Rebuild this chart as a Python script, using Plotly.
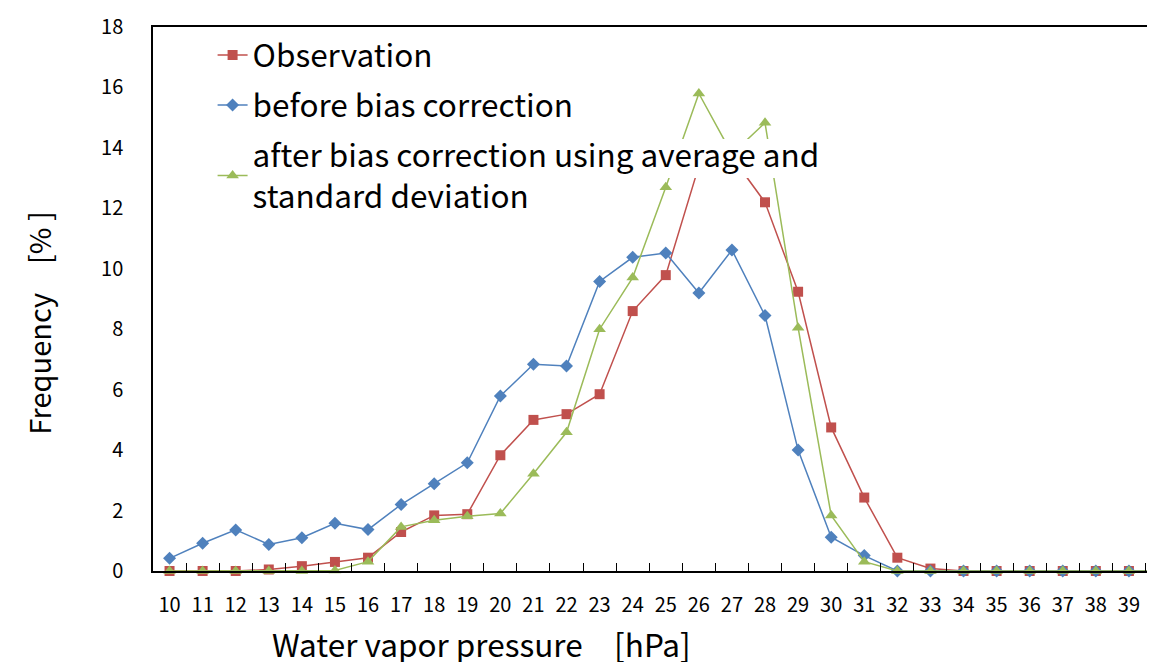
import plotly.graph_objects as go

# Water vapor pressure bins [hPa]
pressure = [str(p) for p in range(10, 41)]

observation = [0, 0, 0, 0.05, 0.16, 0.3, 0.44, 1.29, 1.84, 1.88,
               3.83, 5.0, 5.19, 5.85, 8.6, 9.79, 13.4, 13.7, 12.2, 9.24,
               4.75, 2.43, 0.44, 0.08, 0, 0, 0, 0, 0, 0, 0]
before_corr = [0.42, 0.92, 1.36, 0.88, 1.1, 1.58, 1.37, 2.2, 2.89, 3.58,
               5.79, 6.84, 6.78, 9.58, 10.38, 10.52, 9.2, 10.62, 8.45, 4.0,
               1.12, 0.51, 0, 0, 0, 0, 0, 0, 0, 0, 0]
after_corr = [0, 0, 0, 0, 0, 0.02, 0.31, 1.46, 1.68, 1.81,
              1.9, 3.22, 4.59, 8.0, 9.71, 12.7, 15.8, 13.8, 14.83, 8.05,
              1.84, 0.31, 0, 0, 0, 0, 0, 0, 0, 0, 0]

RED = '#C0504D'
BLUE = '#4F81BD'
GREEN = '#9BBB59'
FONT = 'Noto Sans CJK JP'

fig = go.Figure()
fig.add_trace(go.Scatter(
    x=pressure, y=observation, mode='lines+markers', name='Observation',
    legendgroup='obs',
    line=dict(color=RED, width=1.5),
    marker=dict(symbol='square', size=10, color=RED),
    cliponaxis=False
))
fig.add_trace(go.Scatter(
    x=pressure, y=before_corr, mode='lines+markers', name='before bias correction',
    legendgroup='before',
    line=dict(color=BLUE, width=1.5),
    marker=dict(symbol='diamond', size=10, color=BLUE),
    cliponaxis=False
))
fig.add_trace(go.Scatter(
    x=pressure, y=after_corr, mode='lines+markers',
    name='after bias correction using average and<br>standard deviation',
    legendgroup='after',
    line=dict(color=GREEN, width=1.5),
    marker=dict(symbol='triangle-up', size=11, color=GREEN),
    cliponaxis=False
))

# white background behind the legend text row that crosses the lines
fig.add_shape(type='rect', xref='paper', yref='paper',
              x0=0.100, x1=0.669, y0=0.7224, y1=0.794,
              fillcolor='white', line=dict(width=0), layer='above')

fig.add_annotation(x=-0.114, y=0.456, xref='paper', yref='paper',
                   xanchor='center', yanchor='middle',
                   text='Frequency\u3000[% ]', textangle=-90, showarrow=False,
                   font=dict(family=FONT, size=29, color='black'))
fig.add_annotation(x=0.325, y=-0.1325, xref='paper', yref='paper',
                   xanchor='center', yanchor='middle',
                   text='Water vapor pressure\u3000[hPa]', showarrow=False,
                   font=dict(family=FONT, size=31.5, color='black'))

fig.update_layout(
    width=1155, height=662,
    margin=dict(l=145, r=0, t=19, b=99),
    plot_bgcolor='white', paper_bgcolor='white',
    font=dict(family=FONT, color='black'),
    showlegend=True,
    legend=dict(x=0.059, y=0.998, xanchor='left', yanchor='top',
                bgcolor='rgba(0,0,0,0)', font=dict(family=FONT, size=31.5),
                traceorder='grouped', tracegroupgap=6, itemwidth=30),
    xaxis=dict(type='category', range=[-0.5, 30.03], automargin=False,
               showline=True, linecolor='black', linewidth=1.5, mirror=True,
               showgrid=False, ticks='inside', ticklen=8, tickcolor='black',
               tickson='boundaries', tickfont=dict(family=FONT, size=20),
               ticklabelstandoff=15),
    yaxis=dict(range=[0, 18], dtick=2, showline=True, linecolor='black',
               linewidth=1.5, showgrid=False, zeroline=False, ticks='',
               automargin=False,
               tickfont=dict(family=FONT, size=20), ticklabelstandoff=24),
)

fig.write_html("out.html")
